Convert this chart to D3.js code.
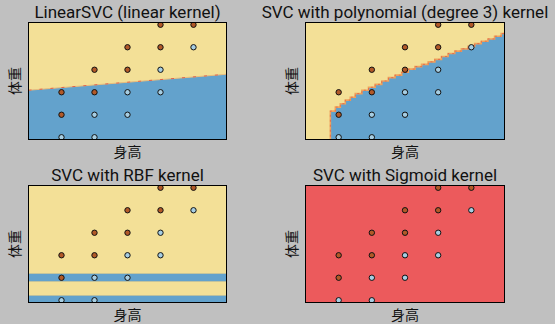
<!DOCTYPE html>
<html>
<head>
<meta charset="utf-8">
<script src="https://cdn.jsdelivr.net/npm/d3@7"></script>
<style>
  html, body { margin: 0; padding: 0; background: #c0c0c0; }
  svg { display: block; }
  text { font-family: "Noto Sans CJK SC", "Noto Sans", sans-serif; fill: #111; }
  text.title { font-family: Roboto, "Noto Sans", sans-serif; }
</style>
</head>
<body>
<div id="chart"></div>
<script>
// ---------------- data ----------------
const titles = [
  "LinearSVC (linear kernel)",
  "SVC with polynomial (degree 3) kernel",
  "SVC with RBF kernel",
  "SVC with Sigmoid kernel"
];
const xLabel = "身高";
const yLabel = "体重";

const heightDomain = [1.4, 2.0];
const weightDomain = [39, 91];

// training samples: height, weight, class (0 = thin, 1 = fat)
const pointHeight = [1.5, 1.6, 1.5, 1.6, 1.7, 1.5, 1.6, 1.7, 1.8, 1.6, 1.7, 1.8, 1.7, 1.8, 1.9, 1.8, 1.9];
const pointWeight = [40, 40, 50, 50, 50, 60, 60, 60, 60, 70, 70, 70, 80, 80, 80, 90, 90];
const pointClass  = [0, 0, 1, 0, 0, 1, 1, 0, 0, 1, 1, 0, 1, 1, 0, 1, 1];

// linear kernel decision boundary (height, weight)
const linearBoundaryH = [1.4, 2.0];
const linearBoundaryW = [60.9, 68.0];

// polynomial kernel decision boundary (staircase from the mesh)
const polyBoundaryH = [1.475, 1.49, 1.505, 1.52, 1.535, 1.55, 1.57, 1.59, 1.61, 1.63, 1.65, 1.67, 1.69, 1.71,
                       1.73, 1.75, 1.77, 1.79, 1.81, 1.83, 1.85, 1.87, 1.89, 1.91, 1.93, 1.95, 1.97, 1.99, 2.0];
const polyBoundaryW = [51.6, 53.4, 54.9, 56.5, 57.8, 59.4, 60.9, 62.2, 63.5, 65.0, 66.5, 67.6, 68.9, 70.3,
                       71.4, 72.4, 73.5, 74.6, 75.9, 77.2, 78.3, 79.3, 80.4, 81.6, 82.7, 83.7, 84.9, 86.1, 86.7];

// RBF kernel: weight bands predicted as class 0
const rbfBandLow  = [48.3, 38.0];
const rbfBandHigh = [51.9, 42.2];

// ---------------- style / layout ----------------
const W = 555, H = 324;
const colors = {
  bg: "#c0c0c0",
  class0Region: "#63a2cc",
  class1Region: "#f3e097",
  sigmoidRegion: "#ec5a5c",
  edge: "#eea35c",
  edgeRed: "#e2604c",
  point0: "#a6cee3",
  point1: "#b15928"
};
const panels = [
  { left: 28.5, top: 22.5, width: 198, height: 117 },
  { left: 305.5, top: 22.5, width: 199, height: 117 },
  { left: 28.5, top: 185.5, width: 198, height: 117 },
  { left: 305.5, top: 185.5, width: 199, height: 117 }
];

const svg = d3.select("#chart").append("svg")
  .attr("width", W).attr("height", H)
  .style("background", colors.bg);

const pointData = pointHeight.map((h, i) => ({ h, w: pointWeight[i], c: pointClass[i] }));

panels.forEach((p, k) => {
  const x = d3.scaleLinear().domain(heightDomain).range([0, p.width]);
  const y = d3.scaleLinear().domain(weightDomain).range([p.height, 0]);

  const g = svg.append("g").attr("transform", `translate(${p.left},${p.top})`);
  const clipId = "clip" + k;
  g.append("clipPath").attr("id", clipId)
    .append("rect").attr("width", p.width).attr("height", p.height);

  const plot = g.append("g").attr("clip-path", `url(#${clipId})`);

  // background region
  plot.append("rect")
    .attr("x", x(heightDomain[0])).attr("y", y(weightDomain[1]))
    .attr("width", x(heightDomain[1]) - x(heightDomain[0]))
    .attr("height", y(weightDomain[0]) - y(weightDomain[1]))
    .attr("fill", k === 3 ? colors.sigmoidRegion : colors.class1Region);

  if (k === 0) {
    const bd = linearBoundaryH.map((h, i) => ({ h, w: linearBoundaryW[i] }));
    const area = d3.area().x(d => x(d.h)).y0(y(weightDomain[0])).y1(d => y(d.w));
    plot.append("path").datum(bd).attr("d", area).attr("fill", colors.class0Region);
    const line = d3.line().x(d => x(d.h)).y(d => y(d.w));
    plot.append("path").datum(bd).attr("d", line)
      .attr("fill", "none").attr("stroke", "#e9bd7c").attr("stroke-width", 1);
    plot.append("path").datum(bd).attr("d", line)
      .attr("fill", "none").attr("stroke", colors.edgeRed).attr("stroke-width", 1)
      .attr("stroke-dasharray", "3,8");
  } else if (k === 1) {
    const bd = polyBoundaryH.map((h, i) => ({ h, w: polyBoundaryW[i] }));
    const area = d3.area().curve(d3.curveStepAfter)
      .x(d => x(d.h)).y0(y(weightDomain[0]) + 2).y1(d => y(d.w));
    plot.append("path").datum(bd).attr("d", area).attr("fill", colors.class0Region);
    const line = d3.line().curve(d3.curveStepAfter).x(d => x(d.h)).y(d => y(d.w));
    const edgeData = [{ h: bd[0].h, w: weightDomain[0] - 1 }].concat(bd);
    plot.append("path").datum(edgeData).attr("d", line)
      .attr("fill", "none").attr("stroke", colors.edge).attr("stroke-width", 1.6);
    plot.append("path").datum(edgeData).attr("d", line)
      .attr("fill", "none").attr("stroke", colors.edgeRed).attr("stroke-width", 0.8)
      .attr("stroke-dasharray", "2,3");
  } else if (k === 2) {
    const bands = rbfBandLow.map((lo, i) => ({ lo, hi: rbfBandHigh[i] }));
    plot.selectAll("rect.band").data(bands).join("rect")
      .attr("class", "band")
      .attr("x", x(heightDomain[0]))
      .attr("width", x(heightDomain[1]) - x(heightDomain[0]))
      .attr("y", d => y(d.hi))
      .attr("height", d => y(d.lo) - y(d.hi))
      .attr("fill", colors.class0Region)
      .attr("stroke", "#d8c890").attr("stroke-width", 0.6);
  }

  // points
  plot.selectAll("circle").data(pointData).join("circle")
    .attr("cx", d => x(d.h)).attr("cy", d => y(d.w)).attr("r", 2.7)
    .attr("fill", d => d.c === 1 ? colors.point1 : colors.point0)
    .attr("stroke", "#111").attr("stroke-width", 1);

  // frame
  g.append("rect").attr("width", p.width).attr("height", p.height)
    .attr("fill", "none").attr("stroke", "#000").attr("stroke-width", 1);

  // title
  g.append("text").attr("class", "title").attr("x", p.width / 2).attr("y", -5)
    .attr("text-anchor", "middle").style("font-size", "17px").text(titles[k]);
  // x label
  g.append("text").attr("x", p.width / 2).attr("y", p.height + 17)
    .attr("text-anchor", "middle").style("font-size", "14px").text(xLabel);
  // y label
  g.append("text")
    .attr("transform", `translate(-8.5,${p.height / 2}) rotate(-90)`)
    .attr("text-anchor", "middle").style("font-size", "14px").text(yLabel);
});
</script>
</body>
</html>
